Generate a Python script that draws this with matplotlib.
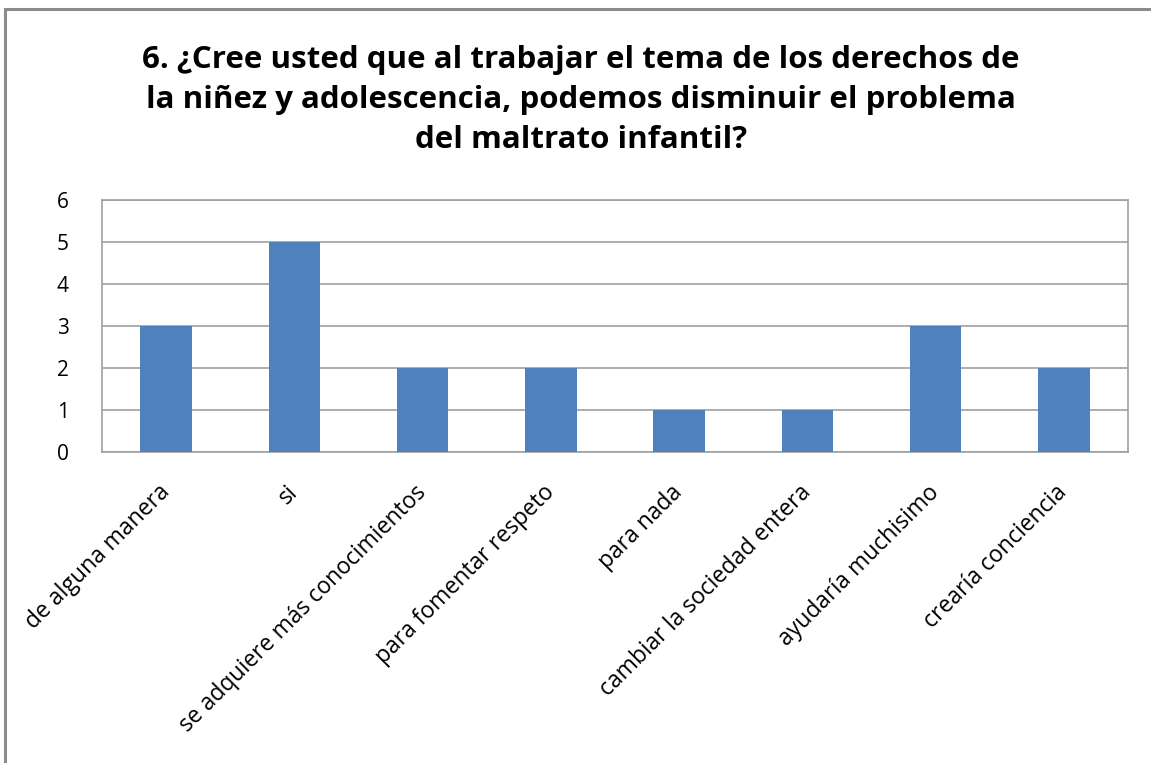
import matplotlib.pyplot as plt
import matplotlib.transforms as mtransforms
from matplotlib.patches import Rectangle

categories = ["de alguna manera", "si", "se adquiere más conocimientos",
              "para fomentar respeto", "para nada", "cambiar la sociedad entera",
              "ayudaría muchisimo", "crearía conciencia"]
values = [3, 5, 2, 2, 1, 1, 3, 2]
yticks = [0, 1, 2, 3, 4, 5, 6]
title = ("6. ¿Cree usted que al trabajar el tema de los derechos de\n"
         "la niñez y adolescencia, podemos disminuir el problema\n"
         "del maltrato infantil?")

plt.rcParams["font.family"] = ["Open Sans", "DejaVu Sans"]

fig = plt.figure(figsize=(11.51, 7.63), dpi=100)
# outer chart border (only left/top fall inside the picture)
fig.patches.append(Rectangle((5 / 1151, -0.05), 1.5, 1 - 9 / 763 + 0.05,
                             transform=fig.transFigure, fill=False,
                             edgecolor="#8c8c8c", linewidth=2.2))

ax = fig.add_axes([102 / 1151, 1 - 452 / 763, (1128 - 102) / 1151, (452 - 200) / 763])
x = range(len(categories))
ax.bar(x, values, width=0.4, color="#4F81BD", zorder=3)
ax.set_xlim(-0.5, len(categories) - 0.5)
ax.set_ylim(0, 6)
ax.set_yticks(yticks)
ax.yaxis.grid(True, color="#a0a0a0", linewidth=1.2, zorder=0)
for s in ax.spines.values():
    s.set_color("#a0a0a0")
    s.set_linewidth(1.2)
ax.tick_params(axis="both", length=0)
ax.tick_params(axis="y", pad=24, labelsize=15)
ax.set_xticks(list(x))
ax.set_xticklabels(categories, rotation=45, ha="right", va="center",
                   rotation_mode="anchor", fontsize=16.5)
offset = mtransforms.ScaledTranslation(0.0, -0.32, fig.dpi_scale_trans)
for lab in ax.get_xticklabels():
    lab.set_transform(lab.get_transform() + offset)

fig.text(581 / 1151, 1 - 100 / 763, title, ha="center", va="center",
         fontsize=22.5, fontweight="bold", linespacing=1.45)

fig.savefig("out.png", dpi=100)
